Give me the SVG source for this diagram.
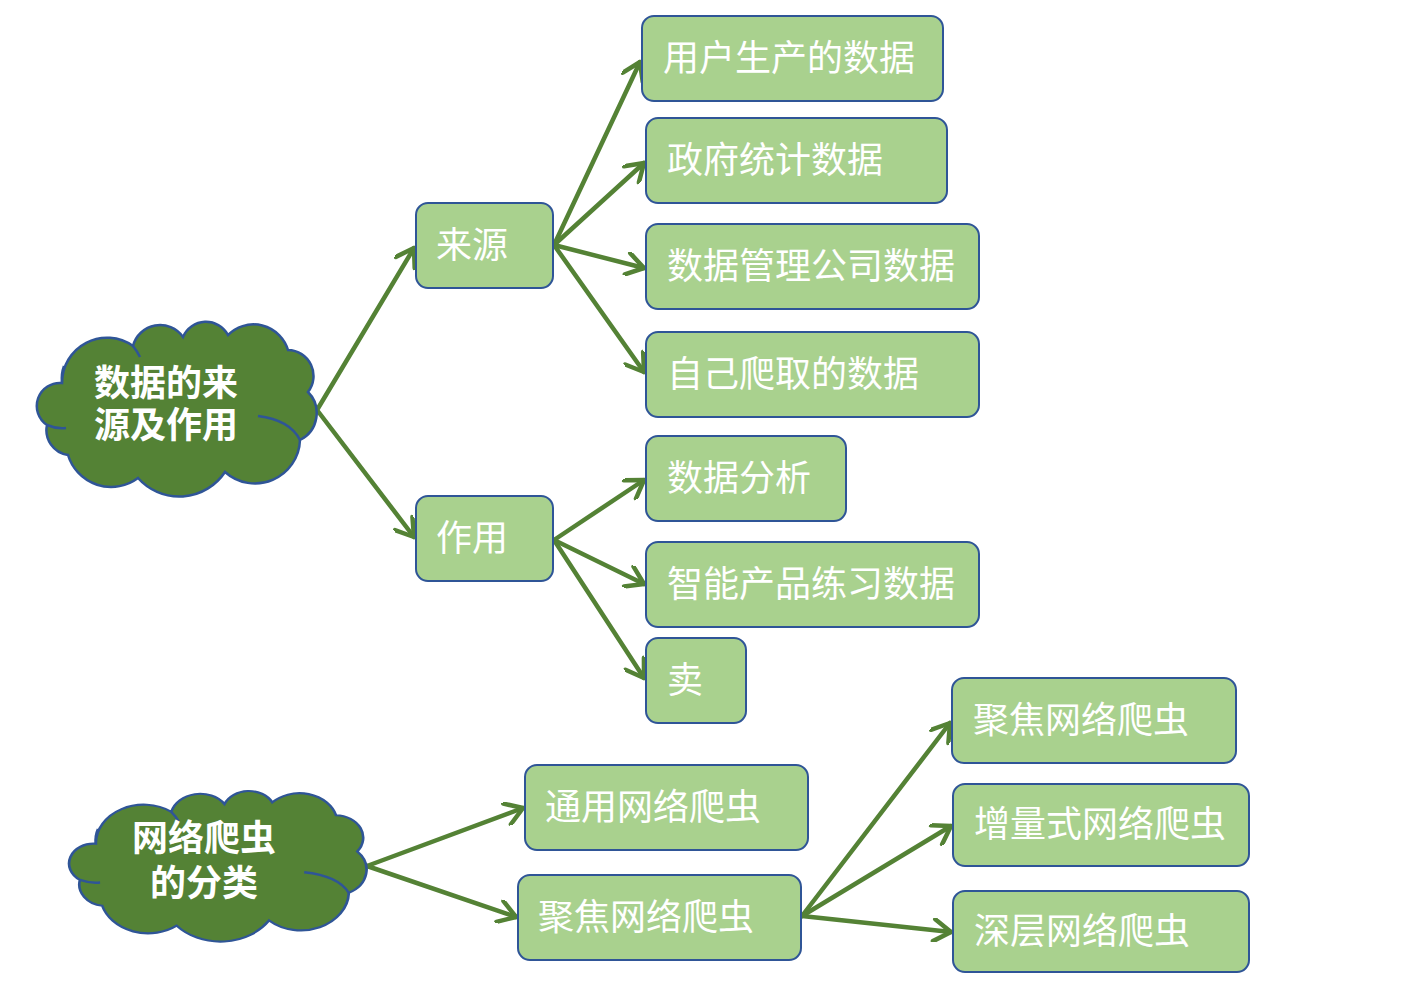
<svg xmlns="http://www.w3.org/2000/svg" width="1409" height="1002" viewBox="0 0 1409 1002">
<defs>
<style>
.box{fill:#A9D18E;stroke:#2F5597;stroke-width:2}
.bt{font-family:"Noto Sans CJK SC","Noto Sans",sans-serif;font-size:36px;fill:#FFFFFF}
.cloud{fill:#548235;stroke:#2F5597;stroke-width:2.5}
.inner{fill:none;stroke:#2F5597;stroke-width:2.5}
.ct{font-family:"Noto Sans CJK SC","Noto Sans",sans-serif;font-size:36px;font-weight:bold;fill:#FFFFFF;text-anchor:middle}
.conn line{stroke:#548235;stroke-width:4.5;stroke-linecap:round;marker-end:url(#ah)}
</style>
<marker id="ah" markerUnits="userSpaceOnUse" viewBox="0 0 24 24" markerWidth="24" markerHeight="24" refX="21" refY="12" orient="auto">
<path d="M4,1 L21,12 L4,23" fill="none" stroke="#548235" stroke-width="4.5" stroke-linecap="round" stroke-linejoin="round"/>
</marker>
<path id="cloudShape" d="M62,383 A45,45 0 0 1 133,346 A28,28 0 0 1 183,337 A25,25 0 0 1 228,335 A36,36 0 0 1 288,350 A26,26 0 0 1 308,392 A30,30 0 0 1 300,440 A45,45 0 0 1 225,472 A55,55 0 0 1 138,478 A45,45 0 0 1 68,455 A25,25 0 0 1 47,425 A23,23 0 0 1 62,383 Z"/>
</defs>
<rect width="1409" height="1002" fill="#FFFFFF"/>

<g id="connectors" class="conn">
<line x1="317" y1="410" x2="414" y2="248"/>
<line x1="317" y1="410" x2="414" y2="537"/>
<line x1="554" y1="245" x2="640" y2="62"/>
<line x1="554" y1="245" x2="644" y2="163"/>
<line x1="554" y1="245" x2="644" y2="268"/>
<line x1="554" y1="245" x2="644" y2="372"/>
<line x1="554" y1="540" x2="644" y2="480"/>
<line x1="554" y1="540" x2="644" y2="584"/>
<line x1="554" y1="540" x2="644" y2="678"/>
<line x1="367" y1="866" x2="523" y2="808"/>
<line x1="367" y1="866" x2="516" y2="917"/>
<line x1="802" y1="916" x2="950" y2="723"/>
<line x1="802" y1="916" x2="951" y2="826"/>
<line x1="802" y1="916" x2="951" y2="932"/>
</g>

<g id="cloud-sources">
<use href="#cloudShape" class="cloud"/>
<path class="inner" d="M47,425 Q56,429 66,428"/>
<path class="inner" d="M258,416 Q290,420 300,440"/>
<path class="inner" d="M62,383 Q61,374 64,366"/>
<path class="inner" d="M133,346 Q137,351 140,357"/>
<text class="ct" x="166" y="396">数据的来<tspan x="166" dy="42">源及作用</tspan></text>
</g>

<g id="cloud-crawler">
<g transform="translate(65,792) scale(1.063,0.862) translate(-33,-323)">
<use href="#cloudShape" class="cloud" vector-effect="non-scaling-stroke"/>
<path class="inner" d="M47,425 Q56,429 66,428" vector-effect="non-scaling-stroke"/>
<path class="inner" d="M258,416 Q290,420 300,440" vector-effect="non-scaling-stroke"/>
<path class="inner" d="M62,383 Q61,374 64,366" vector-effect="non-scaling-stroke"/>
<path class="inner" d="M133,346 Q137,351 140,357" vector-effect="non-scaling-stroke"/>
</g>
<text class="ct" x="204" y="851">网络爬虫<tspan x="204" dy="45">的分类</tspan></text>
</g>

<g id="n-laiyuan"><rect class="box" x="416" y="203" width="137" height="85" rx="12"/><text class="bt" x="436" y="258">来源</text></g>
<g id="n-zuoyong"><rect class="box" x="416" y="496" width="137" height="85" rx="12"/><text class="bt" x="436" y="551">作用</text></g>

<g id="n-user"><rect class="box" x="642" y="16" width="301" height="85" rx="12"/><text class="bt" x="663" y="71">用户生产的数据</text></g>
<g id="n-gov"><rect class="box" x="646" y="118" width="301" height="85" rx="12"/><text class="bt" x="667" y="173">政府统计数据</text></g>
<g id="n-company"><rect class="box" x="646" y="224" width="333" height="85" rx="12"/><text class="bt" x="667" y="279">数据管理公司数据</text></g>
<g id="n-crawl"><rect class="box" x="646" y="332" width="333" height="85" rx="12"/><text class="bt" x="667" y="387">自己爬取的数据</text></g>
<g id="n-analysis"><rect class="box" x="646" y="436" width="200" height="85" rx="12"/><text class="bt" x="667" y="491">数据分析</text></g>
<g id="n-ai"><rect class="box" x="646" y="542" width="333" height="85" rx="12"/><text class="bt" x="667" y="597">智能产品练习数据</text></g>
<g id="n-sell"><rect class="box" x="646" y="638" width="100" height="85" rx="12"/><text class="bt" x="667" y="693">卖</text></g>

<g id="n-general"><rect class="box" x="525" y="765" width="283" height="85" rx="12"/><text class="bt" x="545" y="820">通用网络爬虫</text></g>
<g id="n-focused"><rect class="box" x="518" y="875" width="283" height="85" rx="12"/><text class="bt" x="538" y="930">聚焦网络爬虫</text></g>

<g id="n-focused2"><rect class="box" x="952" y="678" width="284" height="85" rx="12"/><text class="bt" x="973" y="733">聚焦网络爬虫</text></g>
<g id="n-incremental"><rect class="box" x="953" y="784" width="296" height="82" rx="12"/><text class="bt" x="974" y="837">增量式网络爬虫</text></g>
<g id="n-deep"><rect class="box" x="953" y="891" width="296" height="81" rx="12"/><text class="bt" x="974" y="944">深层网络爬虫</text></g>
</svg>
